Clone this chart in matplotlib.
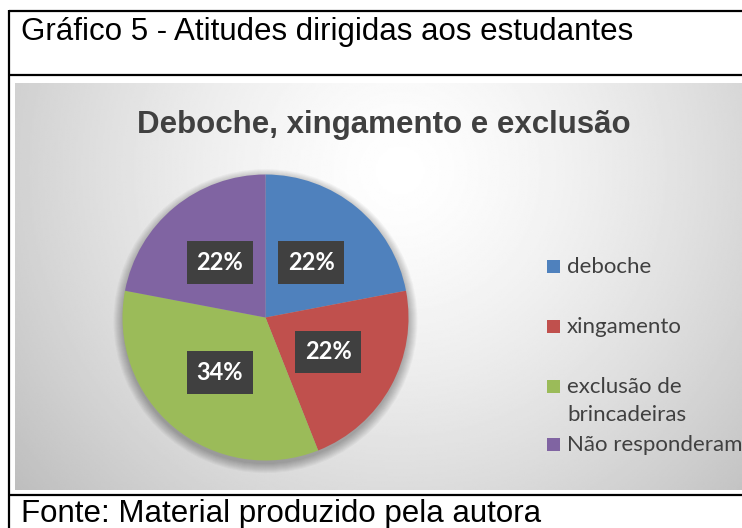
import numpy as np
import matplotlib.pyplot as plt
from matplotlib.patches import Rectangle, Circle

# dados do gráfico
categorias = ['deboche', 'xingamento', 'exclusão de\nbrincadeiras', 'Não responderam']
percentuais = [22, 22, 34, 22]
cores = ['#4F81BD', '#C0504D', '#9BBB59', '#8064A2']

titulo_quadro = 'Gráfico 5 - Atitudes dirigidas aos estudantes'
titulo_grafico = 'Deboche, xingamento e exclusão'
fonte = 'Fonte: Material produzido pela autora'

W, H = 742, 528
fig = plt.figure(figsize=(W / 100, H / 100), dpi=100)

# camada de fundo, em pixels
bg = fig.add_axes([0, 0, 1, 1])
bg.axis('off')

# gradiente radial cinza da área do gráfico
x0, x1, y0, y1 = 15, W, 83, 490
xx, yy = np.meshgrid(np.linspace(x0, x1, 400), np.linspace(y0, y1, 240))
d = np.hypot(xx - 400, yy - 170) / 520
g = 1 - 0.27 * np.clip(d, 0, 1) ** 1.4
bg.imshow(g, cmap='gray', vmin=0, vmax=1, extent=(x0, x1, y1, y0),
          aspect='auto', interpolation='bilinear')
bg.set_xlim(0, W)
bg.set_ylim(H, 0)

# moldura da tabela
kw = dict(color='black', lw=1.6, solid_capstyle='butt')
bg.plot([9, 9], [10, H], **kw)
bg.plot([9, W], [11, 11], **kw)
bg.plot([9, W], [75, 75], **kw)
bg.plot([9, W], [495, 495], **kw)

bg.text(21, 40, titulo_quadro, fontsize=22.5, family='Liberation Sans', va='baseline')
bg.text(21, 522, fonte, fontsize=22.5, family='Liberation Sans', va='baseline')
bg.text(384, 133, titulo_grafico, fontsize=22.5, family='Liberation Sans',
        fontweight='bold', color='#404040', ha='center', va='baseline')

# pizza
cx, cy, r = 265.5, 317.5, 143
pax = fig.add_axes([(cx - r) / W, (H - cy - r) / H, 2 * r / W, 2 * r / H])
for k in range(10):
    pax.add_patch(Circle((0, -0.025), 1 + 0.007 * k, color='black',
                         alpha=0.03, zorder=0, clip_on=False, lw=0))
wedges, texts, autotexts = pax.pie(
    percentuais, colors=cores, startangle=90, counterclock=False,
    autopct='%1.0f%%', pctdistance=0.5, wedgeprops=dict(linewidth=0))
for t in autotexts:
    t.set_color('white')
    t.set_fontweight('bold')
    t.set_family('Lato')
    t.set_fontsize(17)
    t.set_bbox(dict(boxstyle='square,pad=0.42', fc='#404040', ec='none'))
pax.set_xlim(-1, 1)
pax.set_ylim(-1, 1)
pax.set_aspect('equal')
pax.axis('off')

# legenda
leg_y = [266, 326, 386, 444]
for lab, c, y in zip(categorias, cores, leg_y):
    bg.add_patch(Rectangle((547, y - 6.5), 13, 13, color=c, lw=0))
    for i, linha in enumerate(lab.split('\n')):
        bg.text(567, y + 7 + 28 * i, linha, fontsize=16, family='Lato',
                color='#404040', va='baseline')

fig.savefig('out.png', dpi=100)
